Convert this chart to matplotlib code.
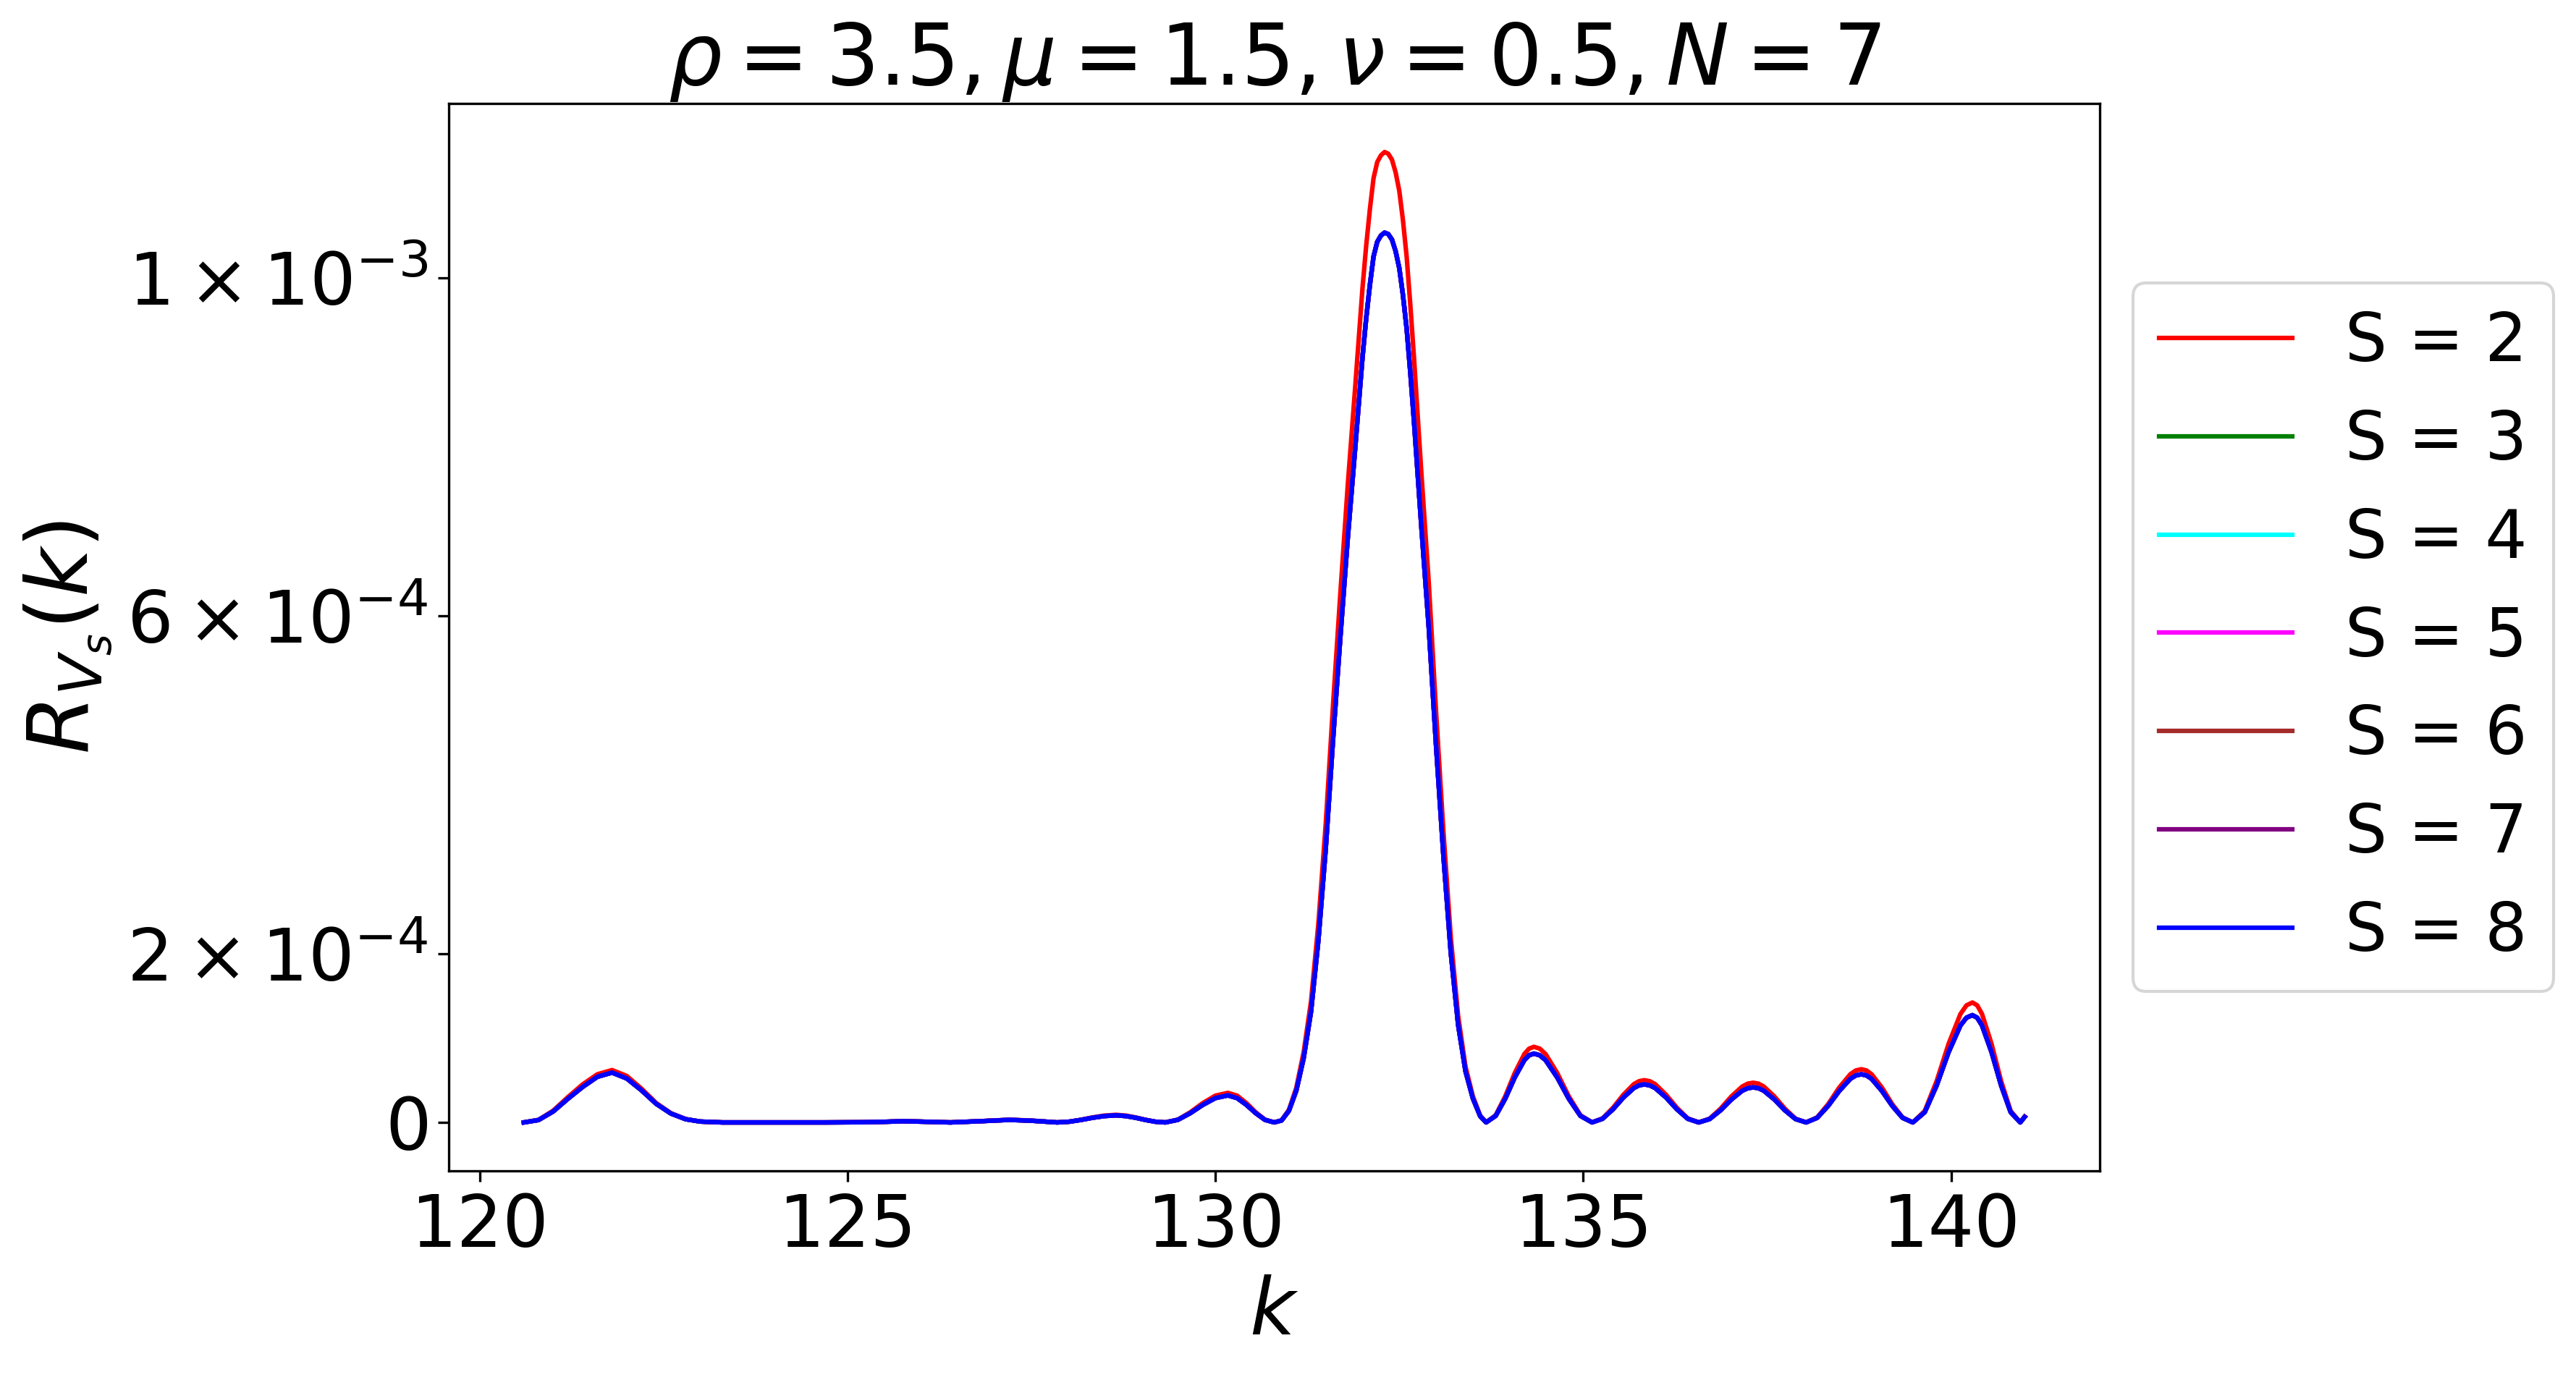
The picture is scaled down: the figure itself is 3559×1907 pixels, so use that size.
import matplotlib
matplotlib.use("Agg")
import matplotlib.pyplot as plt

# k grid (denser on the peaks)
k_vals = [
    120.6, 120.8, 121.0, 121.2, 121.4, 121.6, 121.8, 122.0, 122.2, 122.4,
    122.6, 122.8, 123.0, 123.3, 124.0, 124.7, 125.2, 125.5, 125.75, 126.0,
    126.4, 126.8, 127.2, 127.5, 127.85, 128.01, 128.17, 128.33, 128.49, 128.65,
    128.784, 128.918, 129.052, 129.186, 129.32, 129.49, 129.66, 129.83, 130.0, 130.17,
    130.296, 130.422, 130.548, 130.674, 130.8, 130.9, 131.0, 131.1, 131.2, 131.3,
    131.4, 131.5, 131.6, 131.7, 131.8, 131.9, 132.0, 132.05, 132.1, 132.15,
    132.2, 132.25, 132.3, 132.35, 132.4, 132.45, 132.5, 132.55, 132.6, 132.65,
    132.7, 132.8, 132.9, 133.0, 133.1, 133.2, 133.3, 133.4, 133.5, 133.6, 133.68,
    133.81, 133.94, 134.07, 134.2, 134.265, 134.33, 134.409, 134.488, 134.646, 134.804, 134.962, 135.12,
    135.262, 135.404, 135.546, 135.688, 135.759, 135.83, 135.904, 135.978, 136.126, 136.274, 136.422, 136.57,
    136.718, 136.866, 137.014, 137.162, 137.236, 137.31, 137.382, 137.454, 137.598, 137.742, 137.886, 138.03,
    138.18, 138.33, 138.48, 138.63, 138.705, 138.78, 138.85, 138.92, 139.06, 139.2, 139.34, 139.48,
    139.642, 139.804, 139.966, 140.128, 140.209, 140.29, 140.355, 140.42, 140.55, 140.68, 140.81, 140.94,
    141.0,
]

# S = 2
rv_s2 = [
    0.0, 3e-6, 1.4e-5, 3.0e-5, 4.5e-5, 5.7e-5, 6.2e-5, 5.5e-5, 4.0e-5, 2.3e-5,
    1.1e-5, 4e-6, 1e-6, 0.0, 0.0, 0.0, 2e-7, 8e-7, 1.5e-6, 1e-6,
    0.0, 1.5e-6, 3.2e-6, 2.2e-6, 0.0, 8.6e-7, 3.1e-6, 5.9e-6, 8.1e-6, 9e-6,
    8.1e-6, 5.9e-6, 3.1e-6, 8.6e-7, 0.0, 3.34e-6, 1.21e-5, 2.29e-5, 3.17e-5, 3.5e-5,
    3.17e-5, 2.29e-5, 1.21e-5, 3.34e-6, 0.0, 2.5e-6, 1.5e-5, 4.1e-5, 8.3e-5, 1.43e-4,
    2.35e-4, 3.53e-4, 4.95e-4, 6.28e-4, 7.55e-4, 8.7e-4, 9.88e-4, 1.038e-3, 1.081e-3, 1.118e-3,
    1.137e-3, 1.145e-3, 1.149e-3, 1.147e-3, 1.14e-3, 1.125e-3, 1.103e-3, 1.068e-3, 1.025e-3, 9.68e-4,
    9.05e-4, 7.69e-4, 6.4e-4, 4.86e-4, 3.44e-4, 2.19e-4, 1.26e-4, 6.6e-5, 3.1e-5, 8e-6, 0.0,
    8.55e-6, 3.09e-5, 5.86e-5, 8.1e-5, 8.74e-5, 8.95e-5, 8.74e-5, 8.1e-5, 5.86e-5, 3.09e-5, 8.55e-6, 0.0,
    4.78e-6, 1.73e-5, 3.28e-5, 4.53e-5, 4.88e-5, 5.0e-5, 4.88e-5, 4.53e-5, 3.28e-5, 1.73e-5, 4.78e-6, 0.0,
    4.49e-6, 1.62e-5, 3.08e-5, 4.25e-5, 4.59e-5, 4.7e-5, 4.59e-5, 4.25e-5, 3.08e-5, 1.62e-5, 4.49e-6, 0.0,
    6.02e-6, 2.17e-5, 4.13e-5, 5.7e-5, 6.15e-5, 6.3e-5, 6.15e-5, 5.7e-5, 4.13e-5, 2.17e-5, 6.02e-6, 0.0,
    1.36e-5, 4.9e-5, 9.3e-5, 1.285e-4, 1.386e-4, 1.42e-4, 1.386e-4, 1.285e-4, 9.3e-5, 4.9e-5, 1.36e-5, 0.0,
    7e-6,
]

# S = 3 ... 8 (indistinguishable at this scale)
rv_s3_8 = [
    0.0, 2.8e-6, 1.3e-5, 2.8e-5, 4.2e-5, 5.4e-5, 5.9e-5, 5.2e-5, 3.8e-5, 2.2e-5,
    1.05e-5, 3.8e-6, 1e-6, 0.0, 0.0, 0.0, 2e-7, 7e-7, 1.4e-6, 9e-7,
    0.0, 1.4e-6, 3e-6, 2e-6, 0.0, 8e-7, 2.9e-6, 5.5e-6, 7.5e-6, 8.4e-6,
    7.5e-6, 5.5e-6, 2.9e-6, 8e-7, 0.0, 3.04e-6, 1.1e-5, 2.08e-5, 2.88e-5, 3.2e-5,
    2.88e-5, 2.08e-5, 1.1e-5, 3.04e-6, 0.0, 2.3e-6, 1.38e-5, 3.76e-5, 7.61e-5, 1.311e-4,
    2.155e-4, 3.237e-4, 4.539e-4, 5.759e-4, 6.923e-4, 7.978e-4, 9.06e-4, 9.52e-4, 9.913e-4, 1.0252e-3,
    1.0426e-3, 1.05e-3, 1.0536e-3, 1.0518e-3, 1.0454e-3, 1.0316e-3, 1.0115e-3, 9.794e-4, 9.399e-4, 8.877e-4,
    8.299e-4, 7.052e-4, 5.869e-4, 4.457e-4, 3.154e-4, 2.008e-4, 1.155e-4, 6.05e-5, 2.84e-5, 7.3e-6, 0.0,
    7.78e-6, 2.81e-5, 5.34e-5, 7.38e-5, 7.95e-5, 8.15e-5, 7.95e-5, 7.38e-5, 5.34e-5, 2.81e-5, 7.78e-6, 0.0,
    4.3e-6, 1.55e-5, 2.95e-5, 4.07e-5, 4.39e-5, 4.5e-5, 4.39e-5, 4.07e-5, 2.95e-5, 1.55e-5, 4.3e-6, 0.0,
    3.96e-6, 1.43e-5, 2.72e-5, 3.76e-5, 4.05e-5, 4.15e-5, 4.05e-5, 3.76e-5, 2.72e-5, 1.43e-5, 3.96e-6, 0.0,
    5.44e-6, 1.97e-5, 3.73e-5, 5.16e-5, 5.56e-5, 5.7e-5, 5.56e-5, 5.16e-5, 3.73e-5, 1.97e-5, 5.44e-6, 0.0,
    1.21e-5, 4.38e-5, 8.32e-5, 1.149e-4, 1.24e-4, 1.27e-4, 1.24e-4, 1.149e-4, 8.32e-5, 4.38e-5, 1.21e-5, 0.0,
    6.5e-6,
]

s_values = [2, 3, 4, 5, 6, 7, 8]
colors = ["red", "green", "cyan", "magenta", "brown", "purple", "blue"]

ytick_vals = [0, 2e-4, 6e-4, 1e-3]
ytick_labels = [r"$\mathdefault{0}$", r"$\mathdefault{2\times10^{-4}}$",
                r"$\mathdefault{6\times10^{-4}}$", r"$\mathdefault{1\times10^{-3}}$"]

fig = plt.figure(figsize=(3559 / 300, 1907 / 300), dpi=300)
ax = fig.add_axes([0.1742, 0.1515, 0.6409, 0.7735])

for s, c in zip(s_values, colors):
    y = rv_s2 if s == 2 else rv_s3_8
    ax.plot(k_vals, y, color=c, lw=1.5, label=f"S = {s}")

ax.set_yticks(ytick_vals)
ax.set_yticklabels(ytick_labels)
ax.tick_params(labelsize=24)
ax.set_xlabel(r"$k$", fontsize=26)
ax.set_ylabel(r"$R_{V_s}(k)$", fontsize=28)
ax.set_title(r"$\rho = 3.5, \mu = 1.5, \nu = 0.5, N = 7$", fontsize=28, pad=0)
ax.legend(loc="center left", bbox_to_anchor=(1, 0.5), fontsize=22)

fig.savefig("out.png", dpi=300)
